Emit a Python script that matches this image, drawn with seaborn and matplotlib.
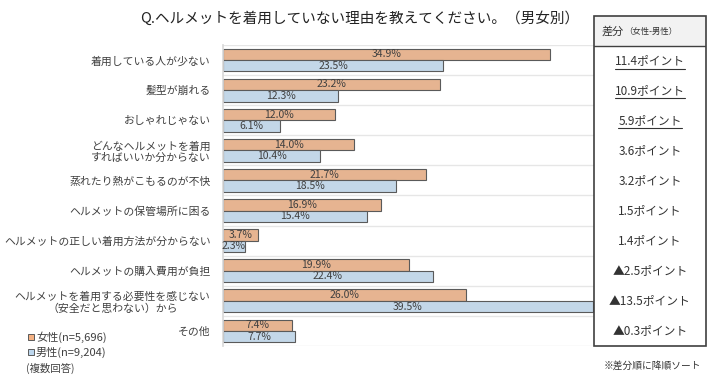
import matplotlib
matplotlib.use("Agg")
import matplotlib.pyplot as plt
from matplotlib.patches import Rectangle
import seaborn as sns
import pandas as pd

# --- データ ---
reasons = [
    "着用している人が少ない",
    "髪型が崩れる",
    "おしゃれじゃない",
    "どんなヘルメットを着用\nすればいいか分からない",
    "蒸れたり熱がこもるのが不快",
    "ヘルメットの保管場所に困る",
    "ヘルメットの正しい着用方法が分からない",
    "ヘルメットの購入費用が負担",
    "ヘルメットを着用する必要性を感じない\n（安全だと思わない）から",
    "その他",
]
female = [34.9, 23.2, 12.0, 14.0, 21.7, 16.9, 3.7, 19.9, 26.0, 7.4]
male = [23.5, 12.3, 6.1, 10.4, 18.5, 15.4, 2.3, 22.4, 39.5, 7.7]
genders = ["女性", "男性"]
legend_labels = ["女性(n=5,696)", "男性(n=9,204)"]
colors = ["#F4B183", "#BDD7EE"]
underlined_rows = 3

df = pd.DataFrame(
    {
        "reason": reasons * 2,
        "gender": [genders[0]] * len(reasons) + [genders[1]] * len(reasons),
        "value": female + male,
    }
)

sns.set_theme(style="white")
plt.rcParams["font.family"] = ["Noto Sans CJK JP", "DejaVu Sans"]

W, H = 718, 386
fig = plt.figure(figsize=(W / 100, H / 100), dpi=100)
ax = fig.add_axes([223 / W, 1 - 346 / H, (594 - 223) / W, (346 - 45) / H])

sns.barplot(
    data=df, y="reason", x="value", hue="gender", orient="h",
    palette=colors, width=0.76, edgecolor="#5a5a5a", linewidth=0.8,
    ax=ax, legend=False,
)
for cont in ax.containers:
    ax.bar_label(cont, fmt="%.1f%%", label_type="center", fontsize=7.5, color="#404040")

ax.set_xlim(0, 39.65)
ax.set_ylim(len(reasons) - 0.5, -0.5)
ax.set_xlabel("")
ax.set_ylabel("")
ax.set_xticks([])
ax.tick_params(axis="y", left=False, pad=3, labelsize=7.8, labelcolor="#404040")
for lab in ax.get_yticklabels():
    lab.set_multialignment("center")
for s in ["top", "right", "bottom"]:
    ax.spines[s].set_visible(False)
ax.spines["left"].set_color("#d9d9d9")
for i in range(len(reasons) + 1):
    ax.axhline(i - 0.5, color="#e6e6e6", lw=1, zorder=0)

# --- 差分テーブル ---
tax = fig.add_axes([594 / W, 1 - 346 / H, (706 - 594) / W, (346 - 16) / H])
tax.set_xlim(0, 1)
tax.set_ylim(len(reasons) - 0.5, -1.5)
tax.axis("off")
tax.add_patch(Rectangle((0, -1.5), 1, 1, facecolor="#f2f2f2", edgecolor="none"))
tax.add_patch(Rectangle((0, -1.5), 1, len(reasons) + 1, facecolor="none",
                        edgecolor="#404040", lw=1.2, clip_on=False))
tax.plot([0, 1], [-0.5, -0.5], color="#404040", lw=1.0)
tax.text(0.27, -1.0, "差分", ha="right", va="center", fontsize=8, color="#333333")
tax.text(0.27, -1.0, "（女性-男性）", ha="left", va="center", fontsize=6, color="#333333")

diff_texts = []
for i, (f, m) in enumerate(zip(female, male)):
    d = round(f - m, 1)
    s = f"{d:.1f}ポイント" if d >= 0 else f"▲{abs(d):.1f}ポイント"
    diff_texts.append(tax.text(0.5, i, s, ha="center", va="center", fontsize=8.5, color="#333333"))

fig.canvas.draw()
renderer = fig.canvas.get_renderer()
inv = tax.transData.inverted()
for t in diff_texts[:underlined_rows]:
    bb = t.get_window_extent(renderer)
    (x0, y0) = inv.transform((bb.x0, bb.y0 - 1))
    (x1, _) = inv.transform((bb.x1, bb.y0 - 1))
    tax.plot([x0, x1], [y0, y0], color="#333333", lw=0.8)

# --- タイトル・凡例・注記 ---
fig.text(360 / W, 1 - 19 / H, "Q.ヘルメットを着用していない理由を教えてください。（男女別）",
         ha="center", va="center", fontsize=10.5, color="#222222")

for k, (lbl, c) in enumerate(zip(legend_labels, colors)):
    yc = 337 + 15 * k
    fig.add_artist(Rectangle((28 / W, 1 - (yc + 3) / H), 6 / W, 6 / H, facecolor=c,
                             edgecolor="#5a5a5a", lw=0.7, transform=fig.transFigure))
    fig.text(36 / W, 1 - yc / H, lbl, ha="left", va="center", fontsize=8, color="#404040")
fig.text(26 / W, 1 - 368 / H, "(複数回答)", ha="left", va="center", fontsize=7.5, color="#404040")
fig.text(604 / W, 1 - 366 / H, "※差分順に降順ソート", ha="left", va="center", fontsize=7, color="#333333")

fig.savefig("out.png", dpi=100)
